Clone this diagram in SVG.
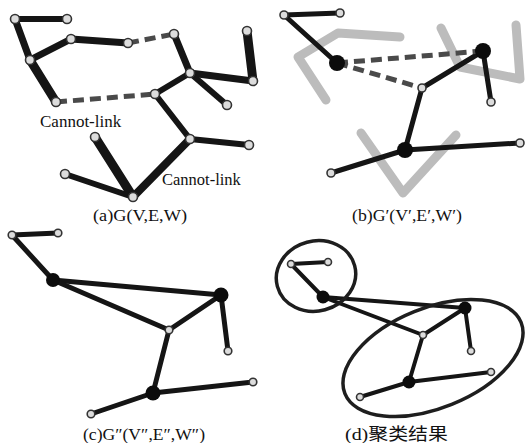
<svg xmlns="http://www.w3.org/2000/svg" width="526" height="443" viewBox="0 0 526 443">
<style>
.e{stroke:#151515;stroke-linecap:round;fill:none}
.d{stroke:#4a4a4a;stroke-width:5;stroke-dasharray:11 6;fill:none}
.g{stroke:#bcbcbc;stroke-width:9;stroke-linecap:round;stroke-linejoin:round;fill:none}
.n{fill:#dcdcdc;stroke:#333;stroke-width:1.6}
.b{fill:#0c0c0c}
.ell{fill:none;stroke:#1e1e1e;stroke-width:3.5}
.t{font-family:"Liberation Serif","Noto Sans CJK SC",serif;fill:#111}
</style>
<g id="connectors">
<!-- panel a -->
<g class="e">
<line x1="15" y1="19" x2="67" y2="19" stroke-width="6"/>
<line x1="15" y1="19" x2="30" y2="60" stroke-width="7"/>
<line x1="30" y1="60" x2="71" y2="39" stroke-width="7"/>
<line x1="71" y1="39" x2="128" y2="43" stroke-width="7"/>
<line x1="174" y1="34" x2="190" y2="73" stroke-width="7"/>
<line x1="190" y1="73" x2="253" y2="81" stroke-width="7"/>
<line x1="247" y1="31" x2="253" y2="81" stroke-width="9"/>
<line x1="190" y1="73" x2="227" y2="105" stroke-width="6"/>
<line x1="190" y1="73" x2="155" y2="94" stroke-width="6"/>
<line x1="30" y1="60" x2="56" y2="102" stroke-width="9"/>
<line x1="155" y1="94" x2="190" y2="139" stroke-width="6"/>
<line x1="190" y1="139" x2="249" y2="145" stroke-width="6"/>
<line x1="190" y1="139" x2="133" y2="197" stroke-width="8"/>
<line x1="95" y1="137" x2="133" y2="197" stroke-width="9"/>
<line x1="65" y1="174" x2="133" y2="197" stroke-width="6"/>
</g>
<line class="d" x1="128" y1="43" x2="174" y2="34"/>
<line class="d" x1="56" y1="102" x2="155" y2="94"/>
<!-- panel b shadows -->
<polyline class="g" points="326,100 298,57 338,33 400,37"/>
<polyline class="g" points="441,28 460,67 520,79 516,25"/>
<polyline class="g" points="361,133 403,193 456,135"/>
<!-- panel b -->
<g class="e" stroke-width="5">
<line x1="284" y1="15" x2="340" y2="13"/>
<line x1="284" y1="15" x2="337" y2="63"/>
<line x1="483" y1="51" x2="422" y2="88"/>
<line x1="483" y1="51" x2="491" y2="102"/>
<line x1="422" y1="88" x2="405" y2="150"/>
<line x1="405" y1="150" x2="331" y2="173"/>
<line x1="405" y1="150" x2="520" y2="143"/>
</g>
<line class="d" x1="337" y1="63" x2="483" y2="51"/>
<line class="d" x1="337" y1="63" x2="422" y2="88"/>
<!-- panel c -->
<g class="e" stroke-width="5">
<line x1="12" y1="235" x2="58" y2="233"/>
<line x1="12" y1="235" x2="53" y2="280"/>
<line x1="53" y1="280" x2="221" y2="295"/>
<line x1="53" y1="280" x2="169" y2="330"/>
<line x1="169" y1="330" x2="221" y2="295"/>
<line x1="221" y1="295" x2="228" y2="351"/>
<line x1="169" y1="330" x2="153" y2="393"/>
<line x1="153" y1="393" x2="91" y2="414"/>
<line x1="153" y1="393" x2="253" y2="382"/>
</g>
<!-- panel d -->
<g class="e" stroke-width="4">
<line x1="291" y1="264" x2="328" y2="262"/>
<line x1="291" y1="264" x2="323" y2="297"/>
<line x1="323" y1="297" x2="465" y2="308"/>
<line x1="323" y1="297" x2="423" y2="335"/>
<line x1="423" y1="335" x2="465" y2="308"/>
<line x1="465" y1="308" x2="471" y2="351"/>
<line x1="423" y1="335" x2="409" y2="382"/>
<line x1="409" y1="382" x2="360" y2="397"/>
<line x1="409" y1="382" x2="491" y2="372"/>
</g>
</g>
<g id="clusters">
<ellipse class="ell" cx="316" cy="276" rx="40" ry="35" transform="rotate(-15 316 276)"/>
<ellipse class="ell" cx="433" cy="358" rx="95" ry="50" transform="rotate(-22 433 358)"/>
</g>
<g id="nodes-a">
<circle id="a1" class="n" cx="15" cy="19" r="4.5"/>
<circle id="a2" class="n" cx="67" cy="19" r="4.5"/>
<circle id="a3" class="n" cx="30" cy="60" r="4.5"/>
<circle id="a4" class="n" cx="71" cy="39" r="4.5"/>
<circle id="a5" class="n" cx="128" cy="43" r="4.5"/>
<circle id="a6" class="n" cx="174" cy="34" r="4.5"/>
<circle id="a7" class="n" cx="190" cy="73" r="4.5"/>
<circle id="a8" class="n" cx="247" cy="31" r="4.5"/>
<circle id="a9" class="n" cx="253" cy="81" r="4.5"/>
<circle id="a10" class="n" cx="227" cy="105" r="4.5"/>
<circle id="a11" class="n" cx="56" cy="102" r="4.5"/>
<circle id="a12" class="n" cx="155" cy="94" r="4.5"/>
<circle id="a13" class="n" cx="190" cy="139" r="4.5"/>
<circle id="a14" class="n" cx="249" cy="145" r="4.5"/>
<circle id="a15" class="n" cx="95" cy="137" r="4.5"/>
<circle id="a16" class="n" cx="65" cy="174" r="4.5"/>
<circle id="a17" class="n" cx="133" cy="197" r="4.5"/>
</g>
<g id="nodes-b">
<circle id="b1" class="n" cx="284" cy="15" r="4"/>
<circle id="b2" class="n" cx="340" cy="13" r="4"/>
<circle id="b3" class="b" cx="337" cy="63" r="8"/>
<circle id="b4" class="b" cx="483" cy="51" r="8"/>
<circle id="b5" class="n" cx="491" cy="102" r="4"/>
<circle id="b6" class="n" cx="422" cy="88" r="4"/>
<circle id="b7" class="b" cx="405" cy="150" r="8"/>
<circle id="b8" class="n" cx="331" cy="173" r="4"/>
<circle id="b9" class="n" cx="520" cy="143" r="4"/>
</g>
<g id="nodes-c">
<circle id="c1" class="n" cx="12" cy="235" r="3.8"/>
<circle id="c2" class="n" cx="58" cy="233" r="3.8"/>
<circle id="c3" class="b" cx="53" cy="280" r="7"/>
<circle id="c4" class="b" cx="221" cy="295" r="7.5"/>
<circle id="c5" class="n" cx="169" cy="330" r="3.8"/>
<circle id="c6" class="n" cx="228" cy="351" r="3.8"/>
<circle id="c7" class="b" cx="153" cy="393" r="7.5"/>
<circle id="c8" class="n" cx="91" cy="414" r="3.8"/>
<circle id="c9" class="n" cx="253" cy="382" r="3.8"/>
</g>
<g id="nodes-d">
<circle id="d1" class="n" cx="291" cy="264" r="3.5"/>
<circle id="d2" class="n" cx="328" cy="262" r="3.5"/>
<circle id="d3" class="b" cx="323" cy="297" r="6.5"/>
<circle id="d4" class="b" cx="465" cy="308" r="6.5"/>
<circle id="d5" class="n" cx="423" cy="335" r="3.5"/>
<circle id="d6" class="n" cx="471" cy="351" r="3.5"/>
<circle id="d7" class="b" cx="409" cy="382" r="6.5"/>
<circle id="d8" class="n" cx="360" cy="397" r="3.5"/>
<circle id="d9" class="n" cx="491" cy="372" r="3.5"/>
</g>
<g id="labels">
<text class="t" x="40" y="127" font-size="17">Cannot-link</text>
<text class="t" x="162" y="185" font-size="16.5">Cannot-link</text>
<text class="t" x="93" y="221" font-size="17" textLength="94" lengthAdjust="spacingAndGlyphs">(a)G(V,E,W)</text>
<text class="t" x="352" y="221" font-size="17" textLength="110" lengthAdjust="spacingAndGlyphs">(b)G′(V′,E′,W′)</text>
<text class="t" x="83" y="440" font-size="17" textLength="122" lengthAdjust="spacingAndGlyphs">(c)G″(V″,E″,W″)</text>
<text class="t" x="345" y="440" font-size="17" textLength="103" lengthAdjust="spacingAndGlyphs">(d)聚类结果</text>
</g>
</svg>
